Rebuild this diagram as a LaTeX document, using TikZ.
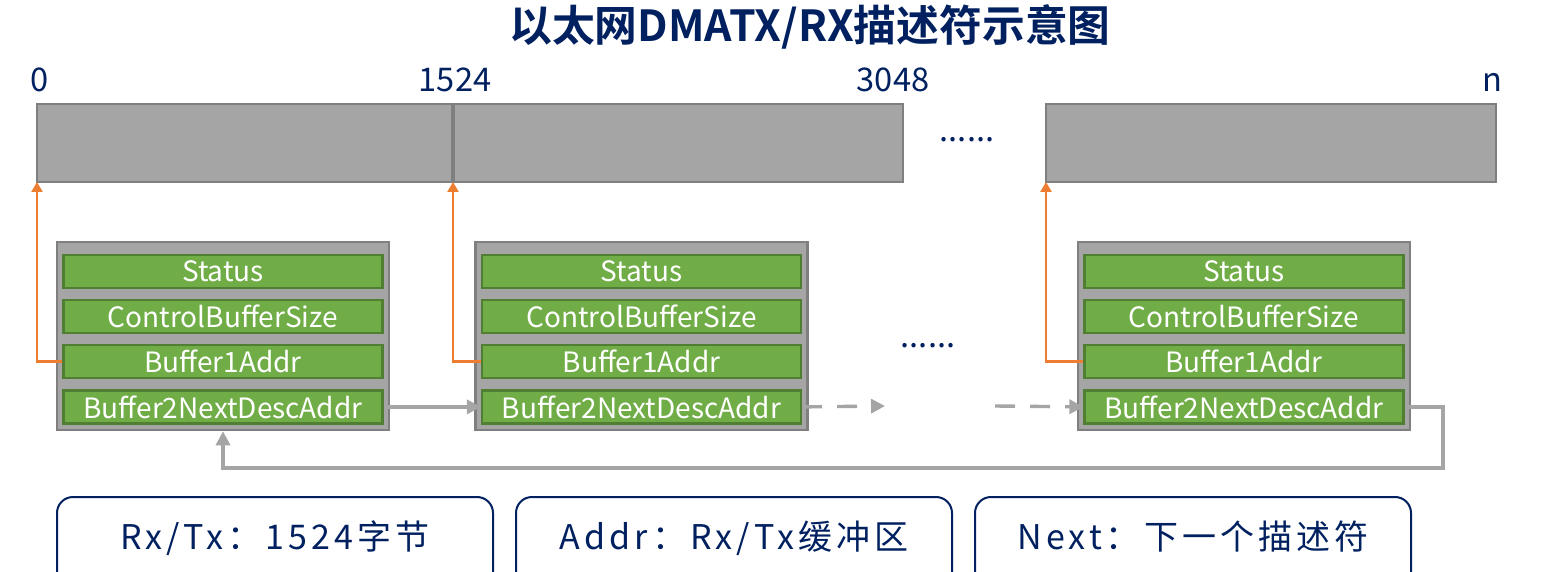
\documentclass[tikz,border=0pt]{standalone}
\usepackage{fontspec}
\setmainfont{Noto Sans CJK SC}[BoldFont={Noto Sans CJK SC Bold}]
\usepackage{tikz}
\usetikzlibrary{arrows.meta, positioning}
\definecolor{navy}{RGB}{0, 32, 96}
\definecolor{cheng}{RGB}{237, 125, 49}
\definecolor{lv}{RGB}{112, 173, 71}
\definecolor{lvbian}{RGB}{80, 126, 50}
\definecolor{hui}{RGB}{165, 165, 165}
\definecolor{huibian}{RGB}{127, 127, 127}

\begin{document}
\begin{tikzpicture}[x=0.5pt, y=-0.5pt, node distance=5pt,
  bar/.style={draw=huibian, fill=hui, line width=1.2pt, minimum height=39pt,
              inner sep=0pt, outer sep=0pt},
  num/.style={text=navy, font=\fontsize{16.3}{18}\selectfont, anchor=base},
  descbox/.style={draw=huibian, fill=hui, line width=1.3pt, minimum width=166pt,
                  minimum height=94pt, inner sep=0pt},
  field/.style={draw=lvbian, fill=lv, line width=1.1pt, text=white,
                minimum width=159.5pt, minimum height=16.5pt, inner sep=0pt,
                font=\fontsize{14}{16}\selectfont},
  ptr/.style={draw=cheng, line width=1.3pt, -{Triangle[length=5pt, width=5.5pt]}},
  nxt/.style={draw=hui, line width=1.7pt, -{Triangle[length=7pt, width=7pt]}},
  gapline/.style={nxt, dash pattern=on 10pt off 7.5pt},
  note/.style={draw=navy, line width=1pt, rounded corners=8pt, minimum width=218pt,
               minimum height=50pt, outer sep=0pt, text=navy,
               font=\fontsize{17}{20}\selectfont\addfontfeature{LetterSpace=12},
               text height=12pt, text depth=9.4pt}]
  \useasboundingbox (0,0) rectangle (1546,572);

  % title
  \node[text=navy, anchor=base, font=\bfseries\fontsize{21.4}{25}\selectfont]
    (title) at (810,42) {以太网DMATX/RX描述符示意图};

  % buffers
  \node[bar, minimum width=208pt] (buf0) at (245,143) {};
  \node[bar, minimum width=225pt, right=0pt of buf0] (buf1) {};
  \draw[huibian, line width=2pt] (buf0.north east) -- (buf0.south east);
  \node[bar, minimum width=225pt] (bufn) at (1271,143) {};
  \node[num] (n0) at (40,92) {0};
  \node[num] (n1) at (455,92) {1524};
  \node[num] (n2) at (893,92) {3048};
  \node[num] (nn) at (1492,92) {n};
  \node[num] (dots1) at (967,142) {......};

  % descriptors
  \foreach \d/\x in {d1/223, d2/641.5, d3/1244} {
    \node[descbox] (\d) at (\x,336) {};
    \node[field, below=6.5pt of \d.north] (\d-s) {Status};
    \node[field, below=of \d-s] (\d-c) {ControlBufferSize};
    \node[field, below=of \d-c] (\d-b) {Buffer1Addr};
    \node[field, below=of \d-b] (\d-n) {Buffer2NextDescAddr};
  }
  \node[num] (dots2) at (928,347) {......};

  % buffer pointers
  \draw[ptr] (d1-b.west) -| (buf0.south west);
  \draw[ptr] (d2-b.west) -| (buf0.south east);
  \draw[ptr] (d3-b.west) -| (bufn.south west);

  % next pointers
  \coordinate (gapl) at (885,406);
  \coordinate (gapr) at (995,406);
  \coordinate (back) at (1443,468);
  \draw[nxt] (d1-n.east) -- (d2-n.west);
  \draw[gapline] (d2-n.east) -- (gapl);
  \draw[gapline] (gapr) -- (d3-n.west);
  \draw[nxt] (d3-n.east) -| (back) -| (d1.south);

  % notes
  \node[note] (rx) at (275,547) {Rx/Tx：1524字节};
  \node[note, right=11.5pt of rx] (addr) {Addr：Rx/Tx缓冲区};
  \node[note, right=11.5pt of addr] (next) {Next：下一个描述符};
\end{tikzpicture}
\end{document}
